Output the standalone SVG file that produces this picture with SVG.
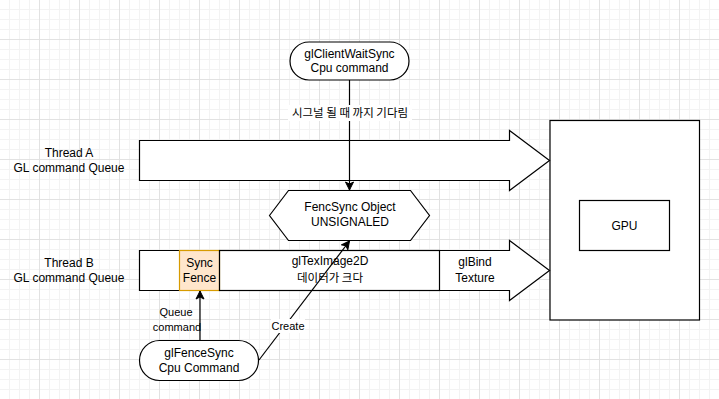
<svg xmlns="http://www.w3.org/2000/svg" width="719" height="399" viewBox="0 0 719 399">
<defs>
<pattern id="grid" x="0" y="0" width="40" height="40" patternUnits="userSpaceOnUse">
<path d="M9.5,0V40M19.5,0V40M29.5,0V40M0,9.5H40M0,19.5H40M0,29.5H40" stroke="#f3f3f3" stroke-width="1" fill="none"/>
<path d="M39.5,0V40M0,39.5H40" stroke="#e2e2e2" stroke-width="1" fill="none"/>
</pattern>
<marker id="arr" viewBox="0 0 10 10" refX="9" refY="5" markerWidth="10" markerHeight="10" markerUnits="userSpaceOnUse" orient="auto">
<path d="M9,5 L1,1 L3,5 L1,9 Z" fill="#000" stroke="#000" stroke-width="1"/>
</marker>
</defs>
<style>
.s{fill:#fff;stroke:#000;stroke-width:1.2}
.t{font-family:"Liberation Sans",Arial,"Noto Sans CJK KR",sans-serif;font-size:12px;fill:#000;text-anchor:middle}
.k{font-family:"Noto Sans CJK KR","Liberation Sans",sans-serif;font-size:11.5px;fill:#000;text-anchor:middle}
.e{fill:none;stroke:#000;stroke-width:1.2}
.lb{font-family:"Liberation Sans",Arial,sans-serif;font-size:11px;fill:#000;text-anchor:middle}
</style>
<rect width="719" height="399" fill="#fff"/>
<rect width="719" height="399" fill="url(#grid)"/>

<g id="threadA-label">
<text class="t" x="69" y="157">Thread A</text>
<text class="t" x="69" y="172">GL command Queue</text>
</g>
<g id="threadB-label">
<text class="t" x="69" y="267">Thread B</text>
<text class="t" x="69" y="282">GL command Queue</text>
</g>

<g id="gpu-box">
<rect class="s" x="550" y="120.5" width="149.5" height="199.5"/>
</g>
<g id="gpu">
<rect class="s" x="579.5" y="200.5" width="90" height="50"/>
<text class="t" x="624.5" y="230">GPU</text>
</g>

<g id="threadA-queue">
<path class="s" d="M139.5,140.5 H509.5 V130.5 L549.5,160.5 L509.5,190.5 V180.5 H139.5 Z"/>
</g>

<g id="threadB-queue">
<path class="s" d="M139.5,250.5 H509.5 V240.5 L549.5,270.5 L509.5,300.5 V290.5 H139.5 Z"/>
</g>
<g id="sync-fence">
<rect x="179.5" y="250.5" width="40" height="40" fill="#ffe6cc" stroke="#d79b00" stroke-width="1.2"/>
<text class="t" x="199.5" y="267">Sync</text>
<text class="t" x="199.5" y="282">Fence</text>
</g>
<g id="glteximage">
<rect x="219.5" y="250.5" width="220" height="40" fill="none" stroke="#000" stroke-width="1.2"/>
<text class="t" x="330" y="265">glTexImage2D</text>
<text class="k" x="330" y="282">데이터가 크다</text>
</g>
<g id="glbind">
<text class="t" x="475" y="266">glBind</text>
<text class="t" x="475" y="282">Texture</text>
</g>

<g id="fencsync-object">
<path class="s" d="M269.5,215.5 L288.5,190.5 H410.5 L429.5,215.5 L410.5,240.5 H288.5 Z"/>
<text class="t" x="350" y="211">FencSync Object</text>
<text class="t" x="350" y="226">UNSIGNALED</text>
</g>

<g id="glclientwaitsync">
<rect class="s" x="290" y="42" width="119" height="38" rx="19" ry="19"/>
<text class="t" x="349.5" y="58">glClientWaitSync</text>
<text class="t" x="349.5" y="72">Cpu command</text>
</g>

<g id="glfencesync">
<rect class="s" x="139.5" y="340.5" width="119" height="40" rx="20" ry="20"/>
<text class="t" x="199" y="357">glFenceSync</text>
<text class="t" x="199" y="372">Cpu Command</text>
</g>

<g id="connectors">
<line class="e" x1="349.5" y1="80" x2="349.5" y2="190" marker-end="url(#arr)"/>
<rect x="288" y="105" width="124" height="16" fill="#fff"/>
<text class="k" x="350" y="117">시그널 될 때 까지 기다림</text>

<line class="e" x1="200" y1="340" x2="200" y2="291" marker-end="url(#arr)"/>
<text class="lb" x="176" y="316">Queue</text>
<text class="lb" x="177" y="331">command</text>

<line class="e" x1="259" y1="360" x2="349.5" y2="241" marker-end="url(#arr)"/>
<rect x="271" y="319" width="34" height="14" fill="#fff"/>
<text class="lb" x="288" y="330">Create</text>
</g>
</svg>
